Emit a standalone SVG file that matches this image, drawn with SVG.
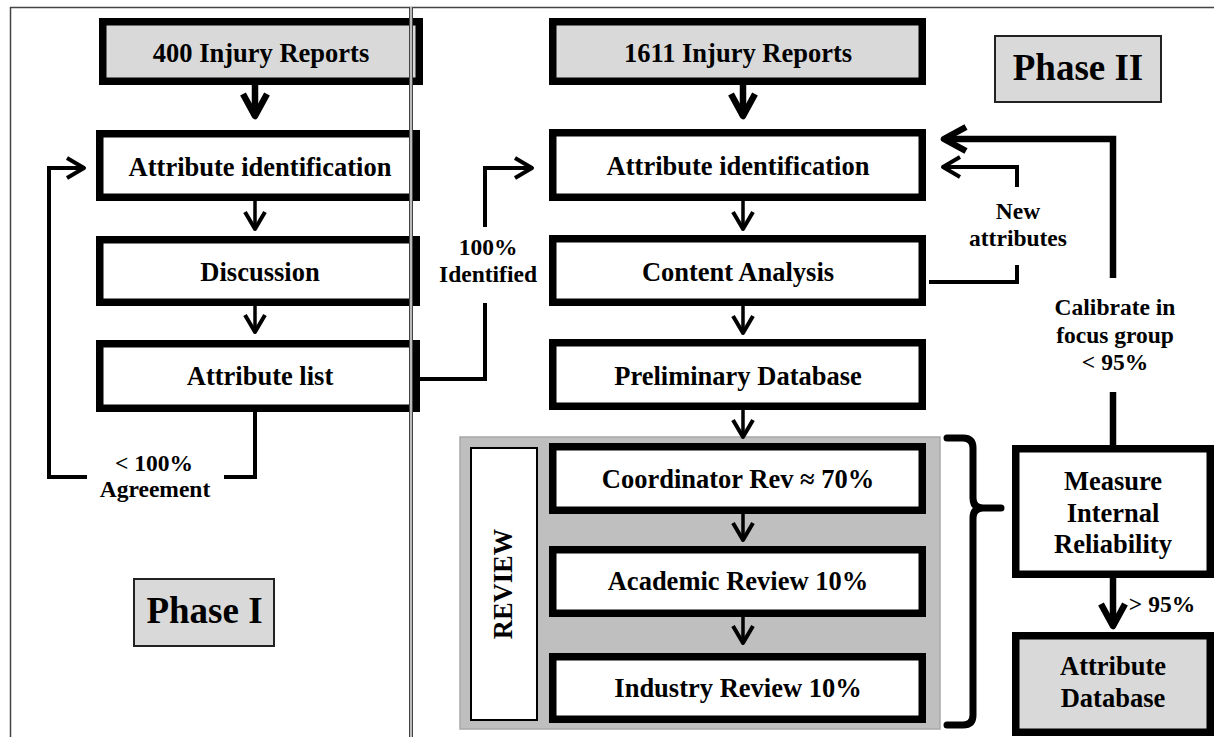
<svg xmlns="http://www.w3.org/2000/svg" width="1214" height="737" viewBox="0 0 1214 737">
<style>
text{font-family:"Liberation Serif","Times New Roman",serif;font-weight:bold;fill:#000;text-anchor:middle}
.t26{font-size:26.5px}
.t24{font-size:23.5px}
.t37{font-size:37px}
.box{fill:#fff;stroke:#000;stroke-width:7.5}
.gbox{fill:#d9d9d9;stroke:#000;stroke-width:7.5}
.phase{fill:#d9d9d9;stroke:#222;stroke-width:2}
.thick{fill:none;stroke:#000;stroke-width:6.5}
.thin{fill:none;stroke:#000;stroke-width:4}
.med{fill:none;stroke:#000;stroke-width:3.5}
</style>
<defs>
<marker id="ahThick" markerUnits="userSpaceOnUse" orient="auto" overflow="visible" refX="0" refY="0" markerWidth="1" markerHeight="1"><path d="M-22,-12 L0,0 L-22,12" fill="none" stroke="#000" stroke-width="6.5" stroke-linejoin="round"/></marker>
<marker id="ahThin" markerUnits="userSpaceOnUse" orient="auto" overflow="visible" refX="0" refY="0" markerWidth="1" markerHeight="1"><path d="M-17,-10 L0,0 L-17,10" fill="none" stroke="#000" stroke-width="4" stroke-linejoin="round"/></marker>
</defs>
<rect x="0" y="0" width="1214" height="737" fill="#fff"/>
<g id="frame">
<line x1="10" y1="7.5" x2="1214" y2="7.5" stroke="#444" stroke-width="1.5"/>
<line x1="10.5" y1="7" x2="10.5" y2="737" stroke="#444" stroke-width="1.5"/>
</g>
<g id="review-panel">
<rect x="460" y="437" width="480" height="292" fill="#bfbfbf" stroke="#a8a8a8" stroke-width="1.5"/>
<rect x="471" y="448" width="66" height="272" fill="#fff" stroke="#000" stroke-width="2"/>
<text class="t26" transform="translate(512,584) rotate(-90)">REVIEW</text>
</g>
<g id="n-400"><rect class="gbox" x="102.75" y="21.75" width="316.5" height="59.5"/><text class="t26" x="261" y="62">400 Injury Reports</text></g>
<g id="n-attrid1"><rect class="box" x="99.75" y="133.75" width="316.5" height="63.5"/><text class="t26" x="260" y="176">Attribute identification</text></g>
<g id="n-discussion"><rect class="box" x="99.75" y="239.75" width="316.5" height="62.5"/><text class="t26" x="260" y="281">Discussion</text></g>
<g id="n-attrlist"><rect class="box" x="99.75" y="343.75" width="316.5" height="64.5"/><text class="t26" x="260" y="385">Attribute list</text></g>
<g id="n-phase1"><rect class="phase" x="134" y="579" width="140" height="67"/><text class="t37" x="204.5" y="623">Phase I</text></g>
<g id="n-1611"><rect class="gbox" x="552.75" y="21.75" width="369.5" height="59.5"/><text class="t26" x="738" y="62">1611 Injury Reports</text></g>
<g id="n-attrid2"><rect class="box" x="552.75" y="132.75" width="369.5" height="64.5"/><text class="t26" x="738" y="175">Attribute identification</text></g>
<g id="n-content"><rect class="box" x="552.75" y="238.75" width="369.5" height="63.5"/><text class="t26" x="738" y="281">Content Analysis</text></g>
<g id="n-prelim"><rect class="box" x="552.75" y="342.75" width="369.5" height="63.5"/><text class="t26" x="738" y="385">Preliminary Database</text></g>
<g id="n-coord"><rect class="box" x="552.75" y="446.75" width="369.5" height="63.5"/><text class="t26" x="738" y="488">Coordinator Rev ≈ 70%</text></g>
<g id="n-academic"><rect class="box" x="552.75" y="549.75" width="369.5" height="63.5"/><text class="t26" x="738" y="590">Academic Review 10%</text></g>
<g id="n-industry"><rect class="box" x="552.75" y="656.75" width="369.5" height="62.5"/><text class="t26" x="738" y="697">Industry Review 10%</text></g>
<g id="n-phase2"><rect class="phase" x="995" y="36" width="166" height="66"/><text class="t37" x="1078" y="80">Phase II</text></g>
<g id="n-measure"><rect class="box" x="1015.75" y="448.75" width="194.5" height="125.5"/><text class="t26" x="1113" y="490">Measure</text><text class="t26" x="1113" y="522">Internal</text><text class="t26" x="1113" y="553">Reliability</text></g>
<g id="n-attrdb"><rect class="gbox" x="1015.75" y="635.75" width="194.5" height="96.5"/><text class="t26" x="1113" y="675">Attribute</text><text class="t26" x="1113" y="707">Database</text></g>
<g id="divider">
<line x1="411" y1="7" x2="411" y2="737" stroke="#bbb" stroke-width="2"/>
<line x1="409.5" y1="7" x2="409.5" y2="737" stroke="#444" stroke-width="1"/>
<line x1="412.5" y1="7" x2="412.5" y2="737" stroke="#444" stroke-width="1"/>
</g>
<g id="connectors">
<path class="thick" d="M255,85 V116" marker-end="url(#ahThick)"/>
<path class="med" d="M255,201 V229" marker-end="url(#ahThin)"/>
<path class="med" d="M255,306 V332" marker-end="url(#ahThin)"/>
<path class="thin" d="M255,412 V477 H224"/>
<path class="thin" d="M87,477 H49 V168 H84" marker-end="url(#ahThin)"/>
<text class="t24" x="154" y="471">&lt; 100%</text>
<text class="t24" x="155" y="497">Agreement</text>
<path class="thin" d="M420,379 H485 V303"/>
<path class="thin" d="M485,227 V168 H532" marker-end="url(#ahThin)"/>
<text class="t24" x="488" y="255">100%</text>
<text class="t24" x="488" y="282">Identified</text>
<path class="thick" d="M743,85 V116" marker-end="url(#ahThick)"/>
<path class="med" d="M743,201 V229" marker-end="url(#ahThin)"/>
<path class="med" d="M743,306 V333" marker-end="url(#ahThin)"/>
<path class="med" d="M743,410 V437" marker-end="url(#ahThin)"/>
<path class="med" d="M743,514 V540" marker-end="url(#ahThin)"/>
<path class="med" d="M743,617 V643" marker-end="url(#ahThin)"/>
<path class="thin" d="M929,282 H1017 V265"/>
<path class="thin" d="M1017,187 V167 H943" marker-end="url(#ahThin)"/>
<text class="t24" x="1018" y="219">New</text>
<text class="t24" x="1018" y="246">attributes</text>
<path class="thick" d="M1113,445 V392"/>
<path class="thick" d="M1113,278 V139 H944" marker-end="url(#ahThick)"/>
<text class="t24" x="1115" y="315">Calibrate in</text>
<text class="t24" x="1115" y="343">focus group</text>
<text class="t24" x="1115" y="370">&lt; 95%</text>
<path class="thick" d="M1113,578 V626" marker-end="url(#ahThick)"/>
<text class="t24" x="1162" y="612">&gt; 95%</text>
<path d="M947,438 H963 Q973,438 973,448 V498 Q973,508 983,508 H1001 M983,508 Q973,508 973,518 V715 Q973,725 963,725 H947" fill="none" stroke="#000" stroke-width="7" stroke-linecap="round"/>
</g>
</svg>
